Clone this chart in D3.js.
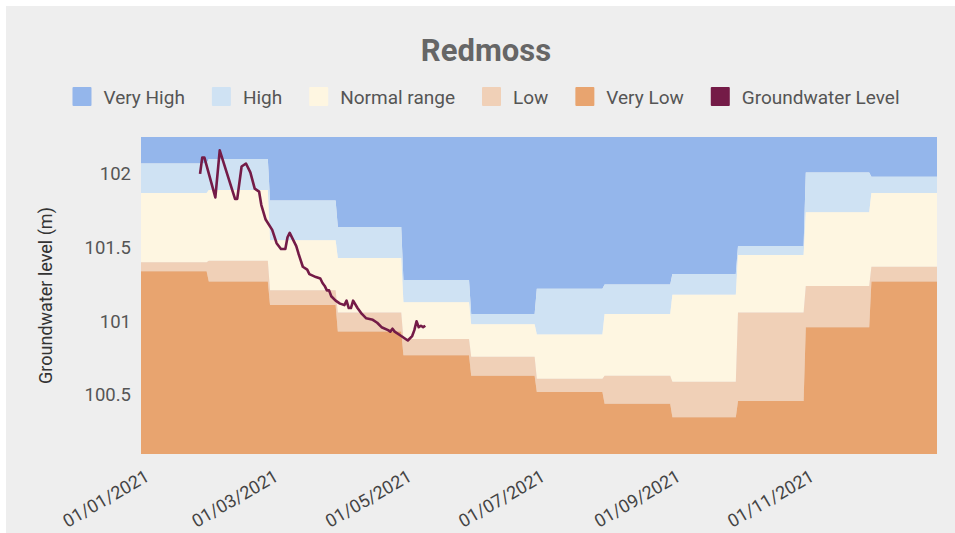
<!DOCTYPE html>
<html>
<head>
<meta charset="utf-8">
<script src="https://cdn.jsdelivr.net/npm/d3@7"></script>
<style>
  html, body { margin: 0; padding: 0; background: #fff; }
  svg { display: block; font-family: Roboto, "Noto Sans", sans-serif; }
</style>
</head>
<body>
<div id="chart"></div>
<script>
// monthly thresholds (top of each band, m)
const months = ["2021-01", "2021-02", "2021-03", "2021-04", "2021-05", "2021-06",
                "2021-07", "2021-08", "2021-09", "2021-10", "2021-11", "2021-12"];
const veryLowTop = [101.34, 101.27, 101.11, 100.93, 100.77, 100.63, 100.52, 100.44, 100.35, 100.46, 100.96, 101.27];
const lowTop     = [101.40, 101.41, 101.21, 101.06, 100.88, 100.76, 100.61, 100.63, 100.59, 101.06, 101.24, 101.37];
const normalTop  = [101.87, 101.89, 101.55, 101.43, 101.13, 100.98, 100.91, 101.05, 101.18, 101.45, 101.74, 101.87];
const highTop    = [102.07, 102.10, 101.82, 101.64, 101.28, 101.05, 101.22, 101.25, 101.32, 101.51, 102.01, 101.98];

const levelDates = ["2021-01-28", "2021-01-29", "2021-01-30", "2021-02-04", "2021-02-06", "2021-02-13",
  "2021-02-14", "2021-02-16", "2021-02-18", "2021-02-20", "2021-02-22", "2021-02-24", "2021-02-25",
  "2021-02-27", "2021-03-02", "2021-03-04", "2021-03-06", "2021-03-08", "2021-03-09", "2021-03-10",
  "2021-03-13", "2021-03-14", "2021-03-16", "2021-03-18", "2021-03-19", "2021-03-22", "2021-03-24",
  "2021-03-25", "2021-03-26", "2021-03-27", "2021-03-28", "2021-03-29", "2021-03-31", "2021-04-02",
  "2021-04-04", "2021-04-05", "2021-04-06", "2021-04-07", "2021-04-08", "2021-04-10", "2021-04-12",
  "2021-04-14", "2021-04-17", "2021-04-19", "2021-04-21", "2021-04-24", "2021-04-25", "2021-04-26",
  "2021-04-27", "2021-04-30", "2021-05-02", "2021-05-03", "2021-05-05", "2021-05-06", "2021-05-07",
  "2021-05-08", "2021-05-09", "2021-05-10", "2021-05-11"];
const levelValues = [102.00, 102.11, 102.11, 101.84, 102.16, 101.83,
  101.83, 102.05, 102.07, 102.01, 101.90, 101.88, 101.79,
  101.69, 101.62, 101.53, 101.49, 101.49, 101.57, 101.60,
  101.51, 101.46, 101.37, 101.35, 101.32, 101.30, 101.29,
  101.26, 101.24, 101.21, 101.21, 101.17, 101.14, 101.12,
  101.11, 101.14, 101.09, 101.09, 101.14, 101.09, 101.05,
  101.02, 101.01, 100.99, 100.96, 100.94, 100.93, 100.95,
  100.93, 100.90, 100.88, 100.87, 100.90, 100.94, 101.00,
  100.96, 100.97, 100.96, 100.97];

const bandNames = ["Very High", "High", "Normal range", "Low", "Very Low"];
const bandColors = ["#94b6eb", "#cfe2f3", "#fef6e1", "#f0d0b7", "#e8a46f"];
const lineName = "Groundwater Level";
const lineColor = "#741b47";

const yTicks = [100.5, 101, 101.5, 102];
const yMin = 100.1, yMax = 102.25;

const width = 955, height = 533;
const margin = { left: 141, right: 18, top: 137, bottom: 79 };

const svg = d3.select("#chart").append("svg").attr("width", width).attr("height", height);

svg.append("rect").attr("x", 6).attr("y", 6).attr("width", width - 6).attr("height", height - 6)
  .attr("fill", "#eeeeee");

const parse = d3.timeParse("%Y-%m-%d");
const x = d3.scaleTime()
  .domain([parse("2021-01-01"), parse("2021-12-31")])
  .range([margin.left, width - margin.right]);
const y = d3.scaleLinear().domain([yMin, yMax]).range([height - margin.bottom, margin.top]);

// two points per month: first day and last day
const bandRows = [];
months.forEach((m, i) => {
  const start = parse(m + "-01");
  const end = d3.timeDay.offset(d3.timeMonth.offset(start, 1), -1);
  const row = { vl: veryLowTop[i], lo: lowTop[i], no: normalTop[i], hi: highTop[i] };
  bandRows.push({ date: start, ...row });
  bandRows.push({ date: end, ...row });
});

const bounds = [
  [d => d.hi, () => yMax],
  [d => d.no, d => d.hi],
  [d => d.lo, d => d.no],
  [d => d.vl, d => d.lo],
  [() => yMin, d => d.vl]
];

bounds.forEach(([lo, hi], i) => {
  const area = d3.area()
    .x(d => x(d.date))
    .y0(d => y(lo(d)))
    .y1(d => y(hi(d)));
  svg.append("path")
    .datum(bandRows)
    .attr("d", area)
    .attr("fill", bandColors[i]);
});

const levels = levelDates.map((d, i) => ({ date: parse(d), value: levelValues[i] }));
svg.append("path")
  .datum(levels)
  .attr("d", d3.line().x(d => x(d.date)).y(d => y(d.value)))
  .attr("fill", "none")
  .attr("stroke", lineColor)
  .attr("stroke-width", 2.6)
  .attr("stroke-linejoin", "round");

// axes
const yAxis = svg.append("g")
  .attr("transform", `translate(${margin.left},0)`)
  .call(d3.axisLeft(y).tickValues(yTicks).tickSize(0).tickPadding(10).tickFormat(d3.format("")));
yAxis.select(".domain").remove();
yAxis.selectAll("text").attr("font-size", 18.5).attr("fill", "#555").attr("font-family", "Roboto");

const xAxis = svg.append("g")
  .attr("transform", `translate(0,${height - margin.bottom})`)
  .call(d3.axisBottom(x).ticks(d3.timeMonth.every(2)).tickSize(0).tickFormat(d3.timeFormat("%d/%m/%Y")));
xAxis.select(".domain").remove();
xAxis.selectAll("text")
  .attr("font-size", 18).attr("fill", "#444").attr("font-family", "Roboto")
  .attr("text-anchor", "end")
  .attr("dy", null).attr("y", 0)
  .attr("transform", "translate(9,26) rotate(-30)");

svg.append("text")
  .attr("transform", `translate(52,${(margin.top + height - margin.bottom) / 2}) rotate(-90)`)
  .attr("text-anchor", "middle")
  .attr("font-size", 18).attr("fill", "#333")
  .text("Groundwater level (m)");

// title
svg.append("text")
  .attr("x", 486).attr("y", 61)
  .attr("text-anchor", "middle")
  .attr("font-size", 31).attr("font-weight", "bold").attr("fill", "#666")
  .text("Redmoss");

// legend
const legendItems = bandNames.map((n, i) => ({ name: n, color: bandColors[i] }))
  .concat([{ name: lineName, color: lineColor }]);
const legend = svg.append("g");
let lx = 0;
legendItems.forEach(item => {
  const g = legend.append("g").attr("transform", `translate(${lx},0)`);
  g.append("rect").attr("x", 0).attr("y", 87).attr("width", 19).attr("height", 19)
    .attr("rx", 1).attr("fill", item.color);
  const t = g.append("text").attr("x", 31).attr("y", 103.5)
    .attr("font-size", 19).attr("fill", "#555").text(item.name);
  lx += 31 + t.node().getComputedTextLength() + 27;
});
const legendWidth = lx - 27;
legend.attr("transform", `translate(${486 - legendWidth / 2},0)`);
</script>
</body>
</html>
